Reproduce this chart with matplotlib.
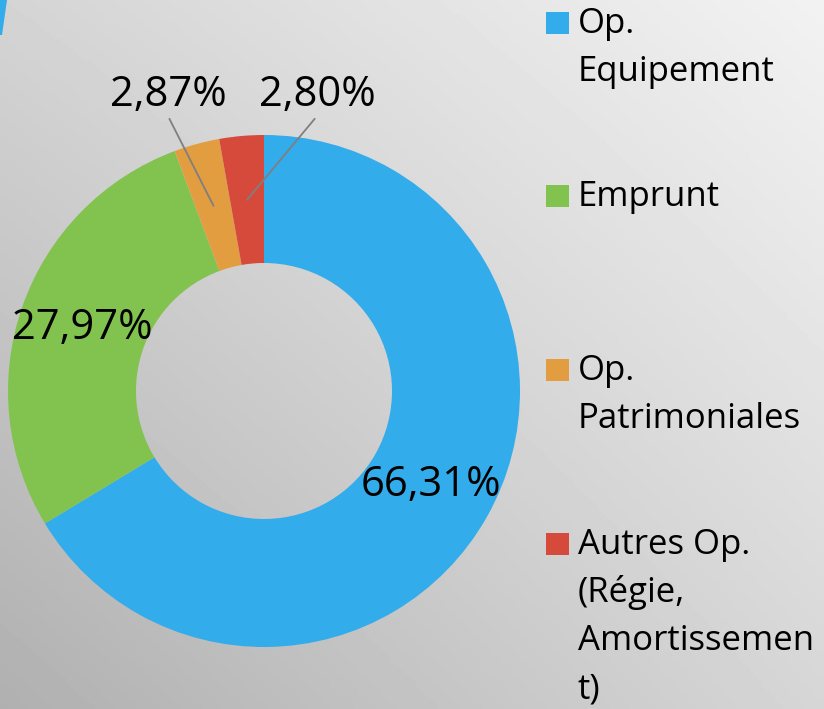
import numpy as np
import matplotlib.pyplot as plt
from matplotlib.patches import Rectangle, Polygon

plt.rcParams['font.family'] = ['Open Sans', 'DejaVu Sans']

# Données
categories = ['Op.\nEquipement', 'Emprunt', 'Op.\nPatrimoniales',
              'Autres Op.\n(Régie,\nAmortissemen\nt)']
parts = [66.31, 27.97, 2.87, 2.80]
etiquettes = ['66,31%', '27,97%', '2,87%', '2,80%']
couleurs = ['#32ACEA', '#82C350', '#E19D40', '#D54A3B']

W, H = 824, 709
fig = plt.figure(figsize=(W / 100, H / 100), dpi=100)

# fond dégradé gris
bg = fig.add_axes([0, 0, 1, 1])
xx, yy = np.meshgrid(np.linspace(0, 1, 200), np.linspace(0, 1, 200))
tl, tr, bl, br = 0xd4, 0xf2, 0xb0, 0xd6
grad = (tl * (1 - xx) * (1 - yy) + tr * xx * (1 - yy)
        + bl * (1 - xx) * yy + br * xx * yy) / 255.0
bg.imshow(grad, cmap='gray', vmin=0, vmax=1, extent=[0, W, H, 0], aspect='auto')
bg.set_xlim(0, W)
bg.set_ylim(H, 0)
bg.axis('off')
# petit trait bleu décoratif en haut à gauche
bg.add_patch(Polygon([(0, 0), (7, 0), (2, 35), (0, 35)], closed=True,
                     color='#32ACEA', lw=0))

# anneau
cx, cy, r = 264, 391, 256
ax = fig.add_axes([(cx - r) / W, (H - cy - r) / H, 2 * r / W, 2 * r / H])
wedges, _ = ax.pie(parts, colors=couleurs, startangle=90, counterclock=False,
                   radius=1, wedgeprops=dict(width=0.5, linewidth=0))
ax.set_xlim(-1, 1)
ax.set_ylim(-1, 1)
ax.set_aspect('equal')
ax.axis('off')

# position des étiquettes déportées pour les petites parts
texte_pos = {2: (-0.375, 1.156), 3: (0.207, 1.156)}
for i, w in enumerate(wedges):
    ang = np.deg2rad((w.theta1 + w.theta2) / 2)
    px, py = 0.75 * np.cos(ang), 0.75 * np.sin(ang)
    if i in texte_pos:
        tx, ty = texte_pos[i]
        ax.annotate(etiquettes[i], xy=(px, py), xytext=(tx, ty),
                    ha='center', va='center', fontsize=30, color='black',
                    annotation_clip=False,
                    arrowprops=dict(arrowstyle='-', color='#7f7f7f', lw=1.3,
                                    relpos=(0.5, 0.0), shrinkA=0, shrinkB=0))
    else:
        ax.text(px, py, etiquettes[i], ha='center', va='center',
                fontsize=30, color='black')

# légende
mk_x, txt_x, mk_size = 546, 578, 22
centres = [23, 196, 370, 544]
pas_ligne = 48
for lab, col, yc in zip(categories, couleurs, centres):
    bg.add_patch(Rectangle((mk_x, yc - mk_size / 2), mk_size + 1, mk_size,
                           color=col, lw=0))
    for j, ligne in enumerate(lab.split('\n')):
        bg.text(txt_x, yc + 1 + j * pas_ligne, ligne, ha='left', va='center',
                fontsize=25, color='black')

fig.savefig('out.png', dpi=100)
